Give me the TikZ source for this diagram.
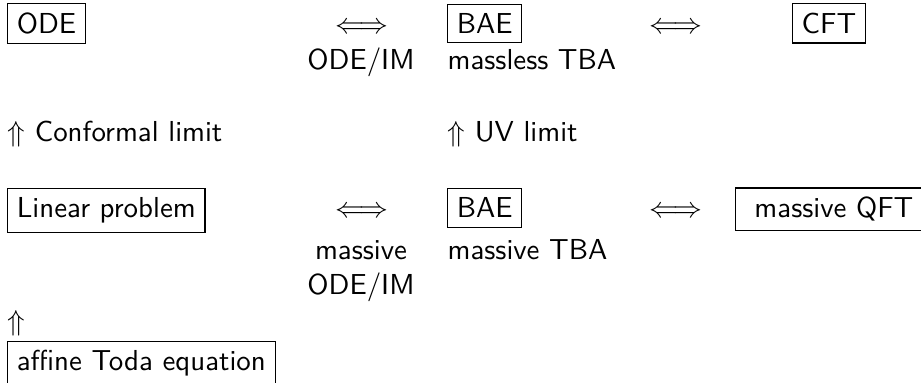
\documentclass[tikz,border=0pt]{standalone}
\usepackage{fontspec}
\renewcommand{\familydefault}{\sfdefault}
\begin{document}
\begin{tikzpicture}[x=0.3462pt, y=-0.3462pt,
  every node/.style={font=\sffamily},
  framed/.style={draw, line width=0.4pt, inner sep=3.2pt, anchor=base west},
  lefttext/.style={inner sep=0pt, anchor=base west},
  centertext/.style={inner sep=0pt, anchor=base}]
\useasboundingbox (0,0) rectangle (921,383);

% first row: conformal side
\node[framed] (ode) at (7,33.5) {ODE};
\node[centertext] (eq1) at (362,33.5) {$\Longleftrightarrow$};
\node[centertext] (odeim) at (361,69.5) {ODE/IM};
\node[framed] (bae1) at (447,33.5) {BAE};
\node[lefttext] (masslesstba) at (447,69.5) {massless TBA};
\node[centertext] (eq2) at (676,33.5) {$\Longleftrightarrow$};
\node[framed, anchor=base] (cft) at (829,33.5) {CFT};

% limits between the rows
\node[lefttext] (conf) at (7,141.5) {$\Uparrow$ Conformal limit};
\node[lefttext] (uv) at (447,141.5) {$\Uparrow$ UV limit};

% third row: massive side
\node[framed] (lin) at (7,218) {Linear problem};
\node[centertext] (eq3) at (362,218) {$\Longleftrightarrow$};
\node[centertext] (mass1) at (361,259.5) {massive};
\node[centertext] (mass2) at (361,295) {ODE/IM};
\node[framed] (bae2) at (447,218) {BAE};
\node[lefttext] (massivetba) at (447,259.5) {massive TBA};
\node[centertext] (eq4) at (676,218) {$\Longleftrightarrow$};
\node[framed] (qft) at (735,218) {\ massive QFT\ };

% bottom: affine Toda
\node[lefttext] (up) at (7,331) {$\Uparrow$};
\node[framed] (toda) at (7,371) {affine Toda equation};
\end{tikzpicture}
\end{document}
